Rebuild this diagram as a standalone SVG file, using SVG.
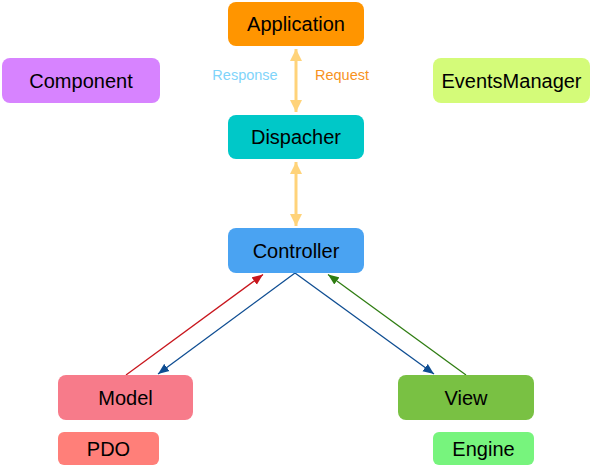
<svg xmlns="http://www.w3.org/2000/svg" width="592" height="467" viewBox="0 0 592 467">
<style>
text{font-family:"Liberation Sans",Arial,sans-serif;}
.lbl{font-size:20px;fill:#000;text-anchor:middle;dominant-baseline:central;}
.small{font-size:14.5px;text-anchor:middle;dominant-baseline:central;}
.ya{stroke:#FFD37A;stroke-width:3;fill:none;}
.thin{stroke-width:1.3;fill:none;}
</style>
<defs>
<marker id="yh" markerUnits="userSpaceOnUse" markerWidth="14" markerHeight="14" viewBox="0 0 14 14" refX="12" refY="7" orient="auto-start-reverse">
<path d="M0,1 L12,7 L0,13 Z" fill="#FFD37A"/>
</marker>
<marker id="rh" markerUnits="userSpaceOnUse" markerWidth="12" markerHeight="10" viewBox="0 0 12 10" refX="11" refY="5" orient="auto">
<path d="M0,0.5 L11,5 L0,9.5 Z" fill="#C8161D"/>
</marker>
<marker id="bh" markerUnits="userSpaceOnUse" markerWidth="12" markerHeight="10" viewBox="0 0 12 10" refX="11" refY="5" orient="auto">
<path d="M0,0.5 L11,5 L0,9.5 Z" fill="#0E4D92"/>
</marker>
<marker id="gh" markerUnits="userSpaceOnUse" markerWidth="12" markerHeight="10" viewBox="0 0 12 10" refX="11" refY="5" orient="auto">
<path d="M0,0.5 L11,5 L0,9.5 Z" fill="#2F7D12"/>
</marker>
</defs>
<g id="connectors">
<line class="ya" x1="296" y1="49" x2="296" y2="112" marker-start="url(#yh)" marker-end="url(#yh)"/>
<line class="ya" x1="296" y1="162" x2="296" y2="226" marker-start="url(#yh)" marker-end="url(#yh)"/>
<line class="thin" stroke="#C8161D" x1="126" y1="375" x2="263" y2="274.5" marker-end="url(#rh)"/>
<line class="thin" stroke="#0E4D92" x1="295" y1="273" x2="158" y2="374" marker-end="url(#bh)"/>
<line class="thin" stroke="#0E4D92" x1="295" y1="273" x2="434" y2="374" marker-end="url(#bh)"/>
<line class="thin" stroke="#2F7D12" x1="466" y1="375" x2="328" y2="274.5" marker-end="url(#gh)"/>
<text class="small" x="245" y="75" fill="#7FD4FA">Response</text>
<text class="small" x="342" y="75" fill="#F7931E">Request</text>
</g>
<g id="application"><rect x="228" y="2" width="136" height="44" rx="8" fill="#FF9500"/><text class="lbl" x="296" y="24">Application</text></g>
<g id="component"><rect x="2" y="58" width="158" height="45" rx="8" fill="#D783FF"/><text class="lbl" x="81" y="80.5">Component</text></g>
<g id="eventsmanager"><rect x="433" y="58" width="157" height="45" rx="8" fill="#D4FB79"/><text class="lbl" x="511.5" y="80.5">EventsManager</text></g>
<g id="dispacher"><rect x="228" y="115" width="136" height="44" rx="8" fill="#00C8C8"/><text class="lbl" x="296" y="137">Dispacher</text></g>
<g id="controller"><rect x="228" y="228" width="136" height="45" rx="8" fill="#4AA3F2"/><text class="lbl" x="296" y="250.5">Controller</text></g>
<g id="model"><rect x="58" y="375" width="135" height="45" rx="8" fill="#F77B8A"/><text class="lbl" x="125.5" y="397.5">Model</text></g>
<g id="view"><rect x="398" y="375" width="136" height="45" rx="8" fill="#79C143"/><text class="lbl" x="466" y="397.5">View</text></g>
<g id="pdo"><rect x="58" y="432" width="101" height="33" rx="6" fill="#FF7F79"/><text class="lbl" x="108.5" y="448.5">PDO</text></g>
<g id="engine"><rect x="433" y="432" width="101" height="33" rx="6" fill="#77F47D"/><text class="lbl" x="483.5" y="448.5">Engine</text></g>
</svg>
